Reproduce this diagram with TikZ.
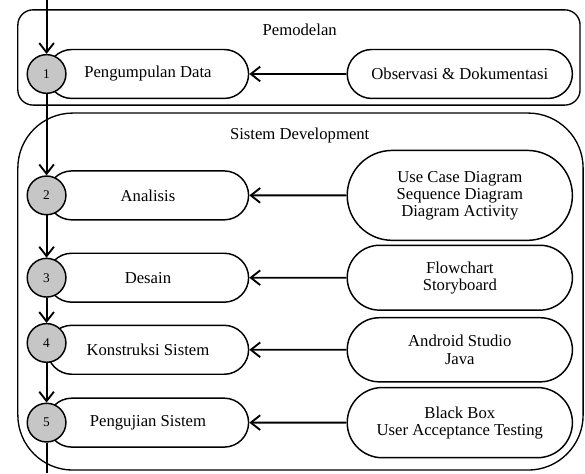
\documentclass[tikz,border=0pt]{standalone}
\usepackage{fontspec}
\setmainfont{Liberation Serif}
\usetikzlibrary{shapes.misc, positioning, arrows.meta}
\tikzstyle{tahap} = [rounded rectangle, draw, line width=1.1pt, fill=white,
    minimum width=5.54cm, minimum height=1.29cm, align=center]
\tikzstyle{alat} = [rounded rectangle, draw, line width=1.1pt, fill=white,
    minimum width=6.17cm, align=center]
\tikzstyle{nomor} = [circle, draw, line width=1.1pt, fill=gray!45,
    minimum size=1.02cm, inner sep=0pt, font=\fontsize{10}{12}\selectfont]
\tikzstyle{frame} = [draw, line width=1pt]
\tikzstyle{line} = [draw, line width=1.4pt, -{Straight Barb[length=7pt,width=11pt]}]

\begin{document}
\begin{tikzpicture}[node distance = 2cm, font=\fontsize{12.5}{12.8}\selectfont]
\useasboundingbox (-3.90,1.95) rectangle (11.52,-10.52);
% kotak fase
\draw [frame, rounded corners=0.4cm] (-3.43,1.69) rectangle (11.39,-0.82);
\draw [frame, rounded corners=1.45cm] (-3.43,-1.03) rectangle (11.47,-10.44);
\node (pemodelan) at (4.0,1.16) {Pemodelan};
\node (sisdev) at (4.0,-1.61) {Sistem Development};

\node [tahap] (p1) {Pengumpulan Data};
\node [tahap, below of=p1, node distance=3.2cm] (p2) {Analisis};
\node [tahap, below of=p2, node distance=2.17cm] (p3) {Desain};
\node [tahap, below of=p3, node distance=1.9cm] (p4) {Konstruksi Sistem};
\node [tahap, below of=p4, node distance=1.92cm] (p5) {Pengujian Sistem};

\node [alat, right of=p1, node distance=8.22cm, minimum height=1.29cm] (r1) {Observasi \& Dokumentasi};
\node [alat, right of=p2, node distance=8.22cm, minimum height=2.37cm] (r2) {Use Case Diagram\\Sequence Diagram\\Diagram Activity};
\node [alat, right of=p3, node distance=8.22cm, minimum height=1.71cm] (r3) {Flowchart\\Storyboard};
\node [alat, right of=p4, node distance=8.22cm, minimum height=1.69cm] (r4) {Android Studio\\Java};
\node [alat, right of=p5, node distance=8.22cm, minimum height=1.85cm] (r5) {Black Box\\User Acceptance Testing};

\node [nomor] (c1) at (p1.west) {1};
\node [nomor] (c2) at (p2.west) {2};
\node [nomor] (c3) at (p3.west) {3};
\node [nomor, yshift=0.18cm] (c4) at (p4.west) {4};
\node [nomor] (c5) at (p5.west) {5};
\coordinate [above=1.95cm of p1.west] (in);
\coordinate [below=1.33cm of p5.west] (out);

  \path [line] (in) -- (c1);
  \path [line] (c1) -- (c2);
  \path [line] (c2) -- (c3);
  \path [line] (c3) -- (c4);
  \path [line] (c4) -- (c5);
  \draw [line width=1.4pt] (c5) -- (out);

  \path [line] (r1) -- (p1);
  \path [line] (r2) -- (p2);
  \path [line] (r3) -- (p3);
  \path [line] (r4) -- (p4);
  \path [line] (r5) -- (p5);
\end{tikzpicture}
\end{document}
